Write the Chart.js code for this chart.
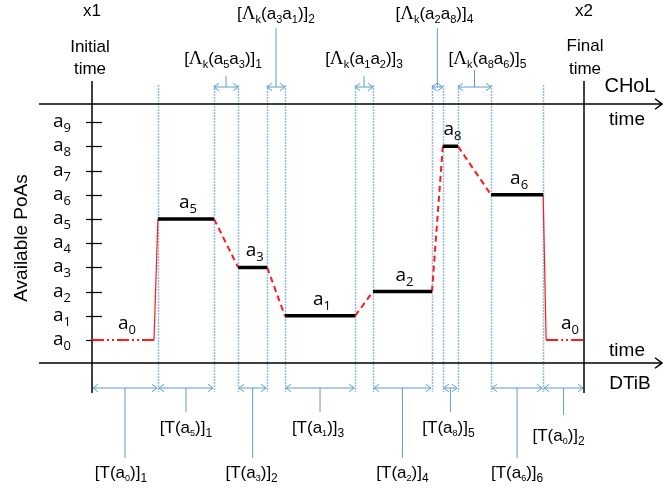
<!DOCTYPE html>
<html lang="en">
<head>
    <meta charset="UTF-8">
    <title>Available PoAs - CHoL / DTiB</title>
    <style>
        body { margin: 0; background: #fff; }
        #wrap { width: 663px; height: 490px; }
    </style>
    <script src="https://cdn.jsdelivr.net/npm/chart.js"></script>
</head>
<body>
<div id="wrap"><canvas id="poaChart" width="663" height="490"></canvas></div>

<script>
    // PoA levels on the vertical axis (a0 .. a9)
    const poaTicks = ['0', '1', '2', '3', '4', '5', '6', '7', '8', '9'];

    // visits in order: which PoA, and when the stay starts / ends (time units, 0 = initial, 100 = final)
    const visitPoA   = [0, 5, 3, 1, 2, 8, 6, 0];
    const visitStart = [0, 13.4, 29.7, 39.2, 57.1, 71.3, 81.1, 92.3];
    const visitEnd   = [12.6, 24.8, 35.6, 53.5, 69.1, 74.4, 91.7, 100];

    // DTiB intervals [T(a)]n
    const dwellPoA   = [0, 5, 3, 1, 2, 8, 6, 0];
    const dwellIndex = [1, 1, 2, 3, 4, 5, 6, 2];
    const dwellFrom  = [0, 13.4, 29.7, 39.2, 57.1, 71.3, 81.1, 91.7];
    const dwellTo    = [13.4, 24.8, 35.6, 53.5, 69.1, 74.4, 91.7, 100];

    // soft handovers [Λk(a a)]n happen between visit i and i+1
    const softFrom = [1, 2, 3, 4, 5];
    const hardFrom = [0, 6];

    const RED = '#ff1a1a';
    const BLUE = '#5b9bd5';
    const DOT = '#8fbde6';

    // helper: several separate segments in one dataset, split by null gaps
    function segments(list) {
        const out = [];
        list.forEach((s, i) => {
            if (i > 0) out.push({ x: s[0][0], y: null });
            out.push({ x: s[0][0], y: s[0][1] });
            out.push({ x: s[1][0], y: s[1][1] });
        });
        return out;
    }

    const stays = [1, 2, 3, 4, 5, 6].map(i => [[visitStart[i], visitPoA[i]], [visitEnd[i], visitPoA[i]]]);
    const idle = [0, 7].map(i => [[visitStart[i], visitPoA[i]], [visitEnd[i], visitPoA[i]]]);
    const soft = softFrom.map(i => [[visitEnd[i], visitPoA[i]], [visitStart[i + 1], visitPoA[i + 1]]]);
    const hard = hardFrom.map(i => [[visitEnd[i], visitPoA[i]], [visitStart[i + 1], visitPoA[i + 1]]]);

    // draws a text made of pieces (normal / subscript / lambda)
    const FONTS = {
        n: { f: '17px "Liberation Sans"', dy: 0 },
        L: { f: '19px "Liberation Serif"', dy: 0 },
        s: { f: '11px "Liberation Sans"', dy: 4 },
        t: { f: '9px "Liberation Sans"', dy: 3 },
        S: { f: '12px "Liberation Sans"', dy: 4 },
        A: { f: '19px "Open Sans"', dy: 0 },
        a: { f: '13px "Open Sans"', dy: 5 }
    };
    function richText(ctx, parts, cx, y) {
        let w = 0;
        parts.forEach(p => { ctx.font = FONTS[p[1]].f; w += ctx.measureText(p[0]).width; });
        let x = cx - w / 2;
        ctx.textAlign = 'left';
        ctx.textBaseline = 'alphabetic';
        parts.forEach(p => {
            ctx.font = FONTS[p[1]].f;
            ctx.fillText(p[0], x, y + FONTS[p[1]].dy);
            x += ctx.measureText(p[0]).width;
        });
    }
    function poaText(n) { return [['a', 'A'], [String(n), 'a']]; }

    function chevron(ctx, x, y, dir, size) {
        ctx.beginPath();
        ctx.moveTo(x - dir * size, y - size * 0.75);
        ctx.lineTo(x, y);
        ctx.lineTo(x - dir * size, y + size * 0.75);
        ctx.stroke();
    }
    function dimArrow(ctx, x1, x2, y) {
        ctx.beginPath();
        ctx.moveTo(x1, y);
        ctx.lineTo(x2, y);
        ctx.stroke();
        chevron(ctx, x1, y, -1, 5);
        chevron(ctx, x2, y, 1, 5);
    }

    const diagramPlugin = {
        id: 'diagram',
        beforeDatasetsDraw(chart) {
            const ctx = chart.ctx;
            const ca = chart.chartArea;
            const xs = chart.scales.x;
            const ys = chart.scales.y;
            ctx.save();

            // dotted guides at stay boundaries
            ctx.strokeStyle = DOT;
            ctx.lineWidth = 1.5;
            ctx.setLineDash([2, 1]);
            for (let i = 1; i <= 6; i++) {
                [visitStart[i], visitEnd[i]].forEach(t => {
                    const x = Math.round(xs.getPixelForValue(t)) + 0.5;
                    ctx.beginPath();
                    ctx.moveTo(x, ca.top - 19);
                    ctx.lineTo(x, ca.bottom + 29);
                    ctx.stroke();
                });
            }
            ctx.setLineDash([]);

            // main axes
            ctx.strokeStyle = '#000';
            ctx.lineWidth = 1.5;
            [ca.top, ca.bottom].forEach(y => {
                ctx.beginPath();
                ctx.moveTo(ca.left - 53, y);
                ctx.lineTo(chart.width - 1, y);
                ctx.stroke();
                chevron(ctx, chart.width - 1, y, 1, 7);
            });
            [ca.left, ca.right].forEach(x => {
                ctx.beginPath();
                ctx.moveTo(x, ca.top - 23);
                ctx.lineTo(x, ca.bottom + 30);
                ctx.stroke();
            });

            // y ticks a0..a9
            ctx.fillStyle = '#000';
            ctx.lineWidth = 1.2;
            poaTicks.forEach((t, i) => {
                const y = Math.round(ys.getPixelForValue(i)) + 0.5;
                ctx.beginPath();
                ctx.moveTo(ca.left - 6, y);
                ctx.lineTo(ca.left + 10, y);
                ctx.stroke();
                richText(ctx, poaText(t), ca.left - 30, y + 4);
            });

            // labels over each stay
            visitPoA.forEach((p, i) => {
                const shift = i === 0 ? 4 : (i === 7 ? 5 : 2);
                const cx = xs.getPixelForValue((visitStart[i] + visitEnd[i]) / 2) + shift;
                richText(ctx, poaText(p), cx, ys.getPixelForValue(p) - 11);
            });

            // soft handover arrows on top
            ctx.strokeStyle = BLUE;
            ctx.fillStyle = '#000';
            ctx.lineWidth = 1;
            const topY = ca.top - 17;
            const topShift = [-3, 0, 0, -3, 13];
            softFrom.forEach((i, j) => {
                const x1 = xs.getPixelForValue(visitEnd[i]);
                const x2 = xs.getPixelForValue(visitStart[i + 1]);
                const mid = (x1 + x2) / 2;
                const high = j % 2 === 1;
                dimArrow(ctx, x1, x2, topY);
                ctx.beginPath();
                ctx.moveTo(mid, topY);
                ctx.lineTo(mid, high ? 28 : (j === 4 ? 70 : 76));
                ctx.stroke();
                const parts = [['[', 'n'], ['\u039B', 'L'], ['k', 's'], ['(a', 'n'],
                    [String(visitPoA[i]), 's'], ['a', 'n'], [String(visitPoA[i + 1]), 's'],
                    [')]', 'n'], [String(j + 1), 'S']];
                richText(ctx, parts, mid + topShift[j], high ? 19 : 64);
            });

            // DTiB intervals at the bottom
            const botY = ca.bottom + 25;
            const row = ['low', 'high', 'low', 'high', 'low', 'high', 'low', 'mid'];
            const stemEnd = { low: 458, high: 412, mid: 415 };
            const textY = { low: 478, high: 433, mid: 441 };
            const botShift = [-4, 0, -1, -2, 0, -2, 0, -5];
            dwellPoA.forEach((p, i) => {
                const x1 = xs.getPixelForValue(dwellFrom[i]);
                const x2 = xs.getPixelForValue(dwellTo[i]);
                const mid = (x1 + x2) / 2;
                ctx.strokeStyle = BLUE;
                dimArrow(ctx, x1 + 1, x2 - 1, botY);
                ctx.beginPath();
                ctx.moveTo(mid, botY);
                ctx.lineTo(mid, stemEnd[row[i]]);
                ctx.stroke();
                const parts = [['[T(a', 'n'], [String(p), 't'], [')]', 'n'], [String(dwellIndex[i]), 'S']];
                richText(ctx, parts, mid + botShift[i], textY[row[i]]);
            });

            // plain texts
            ctx.fillStyle = '#000';
            ctx.textAlign = 'center';
            ctx.textBaseline = 'middle';
            ctx.font = '17px "Liberation Sans"';
            ctx.fillText('x1', ca.left, 11);
            ctx.fillText('x2', ca.right, 11);
            ctx.fillText('Initial', ca.left - 2, 47);
            ctx.fillText('time', ca.left - 2, 69);
            ctx.fillText('Final', ca.right + 1, 46);
            ctx.fillText('time', ca.right + 1, 69);
            ctx.font = '20px "Liberation Sans"';
            ctx.fillText('CHoL', 630, 86);
            ctx.font = '19px "Liberation Sans"';
            ctx.fillText('time', 627, 120);
            ctx.fillText('time', 627, 351);
            ctx.fillText('DTiB', 630, 384);
            ctx.save();
            ctx.translate(22, 238);
            ctx.rotate(-Math.PI / 2);
            ctx.font = '19px "Liberation Sans"';
            ctx.fillText('Available PoAs', 0, 0);
            ctx.restore();

            ctx.restore();
        }
    };

    new Chart(document.getElementById('poaChart').getContext('2d'), {
        type: 'line',
        data: {
            datasets: [
                { label: 'stay', data: segments(stays), borderColor: '#000', borderWidth: 3.5 },
                { label: 'soft handover', data: segments(soft), borderColor: RED, borderWidth: 2, borderDash: [6, 4] },
                { label: 'hard handover', data: segments(hard), borderColor: RED, borderWidth: 1.2 },
                { label: 'no PoA', data: segments(idle), borderColor: RED, borderWidth: 1.8, borderDash: [12, 3, 2, 3, 2, 3] }
            ]
        },
        options: {
            responsive: false,
            animation: false,
            spanGaps: false,
            layout: { padding: { left: 92, right: 79, top: 104, bottom: 127 } },
            elements: { point: { radius: 0, hoverRadius: 0 }, line: { tension: 0, fill: false } },
            scales: {
                x: { type: 'linear', min: 0, max: 100, display: false },
                y: { type: 'linear', min: -0.95, max: 9.75, display: false }
            },
            plugins: {
                legend: { display: false },
                tooltip: { enabled: false }
            }
        },
        plugins: [diagramPlugin]
    });
</script>
</body>
</html>
